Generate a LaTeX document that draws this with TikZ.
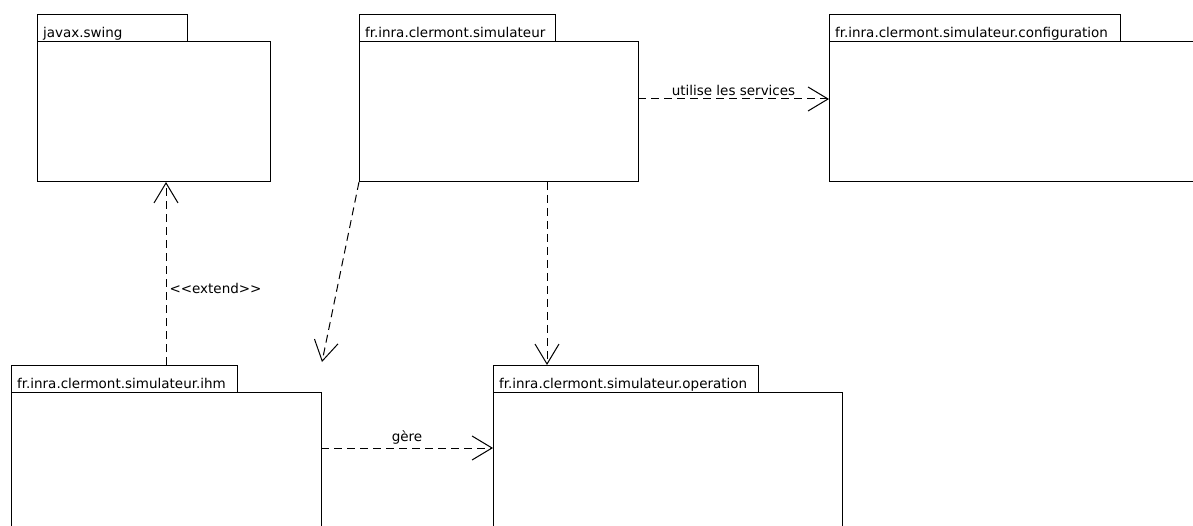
\documentclass[tikz,border=0pt]{standalone}
\usepackage{fontspec}
\setmainfont{DejaVu Sans}
\usetikzlibrary{arrows.meta}

\tikzset{
  pkgbody/.style={draw, line width=1pt, anchor=north west, minimum height=140pt,
    inner sep=0pt, outer sep=0pt},
  pkgtab/.style={draw, line width=1pt, anchor=south west, inner xsep=6pt, inner ysep=4pt,
    text height=19pt, text depth=0pt, align=left, outer sep=0pt,
    font=\fontsize{13.5}{16}\selectfont},
  dep/.style={line width=1pt, dash pattern=on 8pt off 5pt,
    -{Straight Barb[length=20pt,width=24pt,line width=1pt]}},
  lbl/.style={font=\fontsize{13.5}{16}\selectfont, inner sep=3pt}
}

\begin{document}
\begin{tikzpicture}[x=1pt,y=-1pt]
    \useasboundingbox (0,0) rectangle (1193,526);
    \clip (0,0) rectangle (1193,526);

% javax.swing
    \node[pkgbody, minimum width=233pt] (swing) at (37,42) {};
    \node[pkgtab, text width=138pt] (swingtab) at (swing.north west) {javax.swing};

% simulateur
    \node[pkgbody, minimum width=279pt] (simu) at (359,42) {};
    \node[pkgtab, text width=184pt] (simutab) at (simu.north west) {fr.inra.clermont.simulateur};

% configuration
    \node[pkgbody, minimum width=380pt] (config) at (829,42) {};
    \node[pkgtab, text width=279pt] (configtab) at (config.north west) {fr.inra.clermont.simulateur.configuration};

% ihm
    \node[pkgbody, minimum width=310pt] (ihm) at (11,392) {};
    \node[pkgtab, text width=214pt] (ihmtab) at (ihm.north west) {fr.inra.clermont.simulateur.ihm};

% operation
    \node[pkgbody, minimum width=349pt] (oper) at (493,392) {};
    \node[pkgtab, text width=253pt] (opertab) at (oper.north west) {fr.inra.clermont.simulateur.operation};

% dependencies
    \coordinate (extfoot) at ([xshift=155pt]ihmtab.north west);
    \coordinate (operfoot) at ([xshift=54pt]opertab.north west);
    \coordinate (ihmtip) at (322,362);

    \draw[dep] ([yshift=13pt]simu.east) -- node[lbl, above] {utilise les services} ([yshift=13pt]config.west);
    \draw[dep] ([yshift=14pt]ihm.east) -- node[lbl, above] {gère} ([yshift=14pt]oper.west);
    \draw[dep] (extfoot) -- node[lbl, right, pos=0.42] {<{}<extend>{}>} (extfoot |- swing.south);
    \draw[dep] (simu.south west) -- (ihmtip);
    \draw[dep] (operfoot |- simu.south) -- (operfoot);

\end{tikzpicture}
\end{document}
